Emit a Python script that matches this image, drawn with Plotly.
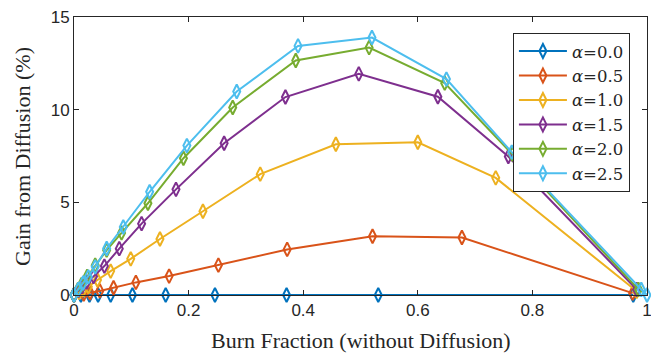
import plotly.graph_objects as go

x_a00 = [0, 0.012, 0.027, 0.042, 0.064, 0.102, 0.160, 0.246, 0.371, 0.531, 0.976]
y_a00 = [0, 0, 0, 0, 0, 0, 0, 0, 0, 0, 0]

x_a05 = [0, 0.017, 0.028, 0.045, 0.069, 0.108, 0.166, 0.252, 0.372, 0.521, 0.677, 0.975]
y_a05 = [0, 0.05, 0.12, 0.22, 0.39, 0.68, 1.02, 1.61, 2.46, 3.17, 3.10, 0.1]

x_a10 = [0, 0.009, 0.016, 0.025, 0.041, 0.064, 0.099, 0.150, 0.225, 0.325, 0.457, 0.600, 0.736, 0.982]
y_a10 = [0, 0.15, 0.28, 0.45, 0.81, 1.29, 1.95, 3.02, 4.52, 6.52, 8.13, 8.24, 6.32, 0.2]

x_a15 = [0, 0.008, 0.014, 0.022, 0.034, 0.053, 0.079, 0.118, 0.178, 0.262, 0.369, 0.497, 0.635, 0.758, 0.982]
y_a15 = [0, 0.25, 0.45, 0.70, 1.00, 1.56, 2.50, 3.85, 5.70, 8.19, 10.68, 11.93, 10.70, 7.47, 0.3]

x_a20 = [0, 0.007, 0.013, 0.023, 0.037, 0.057, 0.083, 0.129, 0.191, 0.277, 0.387, 0.515, 0.647, 0.765, 0.985]
y_a20 = [0, 0.30, 0.55, 1.00, 1.61, 2.42, 3.35, 4.95, 7.38, 10.12, 12.65, 13.35, 11.43, 7.60, 0.3]

x_a25 = [0, 0.0075, 0.016, 0.025, 0.037, 0.057, 0.086, 0.132, 0.197, 0.284, 0.391, 0.520, 0.650, 0.764, 0.990, 1.0]
y_a25 = [0, 0.30, 0.65, 0.98, 1.52, 2.51, 3.67, 5.57, 8.06, 10.98, 13.44, 13.89, 11.65, 7.71, 0.3, 0]

labels = ["0.0", "0.5", "1.0", "1.5", "2.0", "2.5"]
colors = ["#0072BD", "#D95319", "#EDB120", "#7E2F8E", "#77AC30", "#4DBEEE"]
series = [(x_a00, y_a00), (x_a05, y_a05), (x_a10, y_a10),
          (x_a15, y_a15), (x_a20, y_a20), (x_a25, y_a25)]

xtick_vals = [0, 0.2, 0.4, 0.6, 0.8, 1.0]
xtick_text = ["0", "0.2", "0.4", "0.6", "0.8", "1"]
ytick_vals = [0, 5, 10, 15]

SERIF = "Liberation Serif, DejaVu Serif, serif"
LEGSERIF = "DejaVu Serif, serif"
SANS = "Liberation Sans, Arial, sans-serif"
INK = "#262626"

fig = go.Figure()
for (xs, ys), lab, col in zip(series, labels, colors):
    fig.add_trace(go.Scatter(
        x=xs, y=ys, mode="lines+markers", name="<i>α</i>=" + lab,
        line=dict(color=col, width=2),
        marker=dict(symbol="diamond-tall-open", size=10, color=col,
                    line=dict(color=col, width=2)),
        cliponaxis=False,
    ))

axis_common = dict(showline=True, linecolor=INK, linewidth=1, mirror="ticks",
                   ticks="inside", ticklen=5, tickcolor=INK, showgrid=False,
                   zeroline=False, automargin=False, ticklabeloverflow="allow",
                   tickfont=dict(family=SANS, size=17, color=INK))

fig.update_layout(
    width=651, height=353,
    margin=dict(l=74, r=4, t=17, b=58, autoexpand=False),
    paper_bgcolor="white", plot_bgcolor="white",
    xaxis=dict(range=[0, 1], tickvals=xtick_vals, ticktext=xtick_text, **axis_common),
    yaxis=dict(range=[0, 15], tickvals=ytick_vals, **axis_common),
    legend=dict(x=0.766, y=0.943, xanchor="left", yanchor="top",
                bgcolor="white", bordercolor=INK, borderwidth=1,
                font=dict(family=LEGSERIF, size=16.5, color=INK),
                tracegroupgap=0, itemwidth=48),
    showlegend=True,
    annotations=[
        dict(text="Burn Fraction (without Diffusion)", xref="paper", yref="paper",
             x=0.5, y=-0.162, xanchor="center", yanchor="middle", showarrow=False,
             font=dict(family=SERIF, size=22, color=INK)),
        dict(text="Gain from Diffusion (%)", xref="paper", yref="paper",
             x=-0.0908, y=0.5, xanchor="center", yanchor="middle", showarrow=False,
             textangle=-90, font=dict(family=SERIF, size=22, color=INK)),
    ],
)

# remove the browser's default 8px body margin so the 651x353 figure fills the window exactly
post = ("document.documentElement.style.margin='0';document.body.style.margin='0';"
        "document.documentElement.style.overflow='hidden';document.body.style.overflow='hidden';")

fig.write_html("out.html", post_script=post, config={"displayModeBar": False})
